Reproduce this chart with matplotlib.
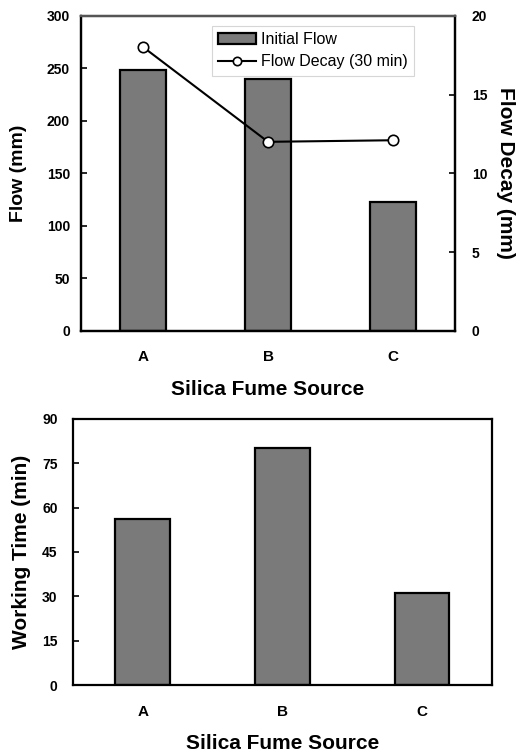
import numpy as np
import matplotlib
matplotlib.use('Agg')
import matplotlib.pyplot as plt

plt.rcParams['font.family'] = ['Liberation Sans', 'DejaVu Sans']
plt.rcParams['font.size'] = 10

# data
sources = ['A', 'B', 'C']
initial_flow = [248, 240, 123]       # mm
flow_decay = [18, 12, 12.1]          # mm, 30 min
working_time = [56, 80, 31]          # min

bar_color = '#7a7a7a'
fig = plt.figure(figsize=(5.2, 7.52), dpi=100)

# top panel
ax1 = fig.add_axes([0.156, 0.560, 0.719, 0.419])
x = np.arange(len(sources))
ax1.bar(x, initial_flow, width=0.37, color=bar_color, edgecolor='black', linewidth=1.6,
        label='Initial Flow')
ax1.set_xlim(-0.5, 2.5)
ax1.set_ylim(0, 300)
ax1.set_yticks(range(0, 301, 50))
ax1.set_xticks(x)
ax1.set_xticklabels(sources, fontweight='bold', fontsize=11)
ax1.set_yticklabels([str(v) for v in range(0, 301, 50)], fontweight='bold', fontsize=10)
ax1.set_ylabel('Flow (mm)', fontsize=14, fontweight='bold', labelpad=14)
ax1.set_xlabel('Silica Fume Source', fontsize=15, fontweight='bold', labelpad=11)
ax1.tick_params(axis='y', direction='in', length=4, width=1.2, pad=8)
ax1.tick_params(axis='x', length=0, pad=14)

ax2 = ax1.twinx()
ax2.plot(x, flow_decay, color='black', linewidth=1.5, marker='o', markersize=7.5,
         markerfacecolor='white', markeredgecolor='black', markeredgewidth=1.2,
         label='Flow Decay (30 min)')
ax2.set_ylim(0, 20)
ax2.set_yticks(range(0, 21, 5))
ax2.set_yticklabels([str(v) for v in range(0, 21, 5)], fontweight='bold', fontsize=10)
ax2.set_ylabel('Flow Decay (mm)', fontsize=15, fontweight='bold', rotation=-90, labelpad=20)
ax2.tick_params(axis='y', direction='in', length=4, width=1.2, pad=12)

for ax in (ax1, ax2):
    for s in ax.spines.values():
        s.set_linewidth(1.6)
ax2.spines['top'].set_color('#555555')

h1, l1 = ax1.get_legend_handles_labels()
h2, l2 = ax2.get_legend_handles_labels()
leg = ax2.legend(h1 + h2, l1 + l2, loc='upper center', bbox_to_anchor=(0.62, 0.968),
                 fontsize=11.5, frameon=True, fancybox=False, edgecolor='#cccccc',
                 handlelength=2.4, handletextpad=0.3, borderpad=0.4, labelspacing=0.45,
                 borderaxespad=0.0, markerscale=0.8)
leg.get_frame().set_linewidth(0.8)

# bottom panel
ax3 = fig.add_axes([0.140, 0.089, 0.806, 0.354])
ax3.bar(x, working_time, width=0.39, color=bar_color, edgecolor='black', linewidth=1.6)
ax3.set_xlim(-0.5, 2.5)
ax3.set_ylim(0, 90)
ax3.set_yticks(range(0, 91, 15))
ax3.set_xticks(x)
ax3.set_xticklabels(sources, fontweight='bold', fontsize=11)
ax3.set_yticklabels([str(v) for v in range(0, 91, 15)], fontweight='bold', fontsize=10)
ax3.set_ylabel('Working Time (min)', fontsize=15, fontweight='bold', labelpad=8)
ax3.set_xlabel('Silica Fume Source', fontsize=15, fontweight='bold', labelpad=11)
ax3.tick_params(axis='y', direction='in', length=4, width=1.2, pad=11)
ax3.tick_params(axis='x', length=0, pad=14)
for s in ax3.spines.values():
    s.set_linewidth(1.6)

plt.savefig('out.png', dpi=100)
